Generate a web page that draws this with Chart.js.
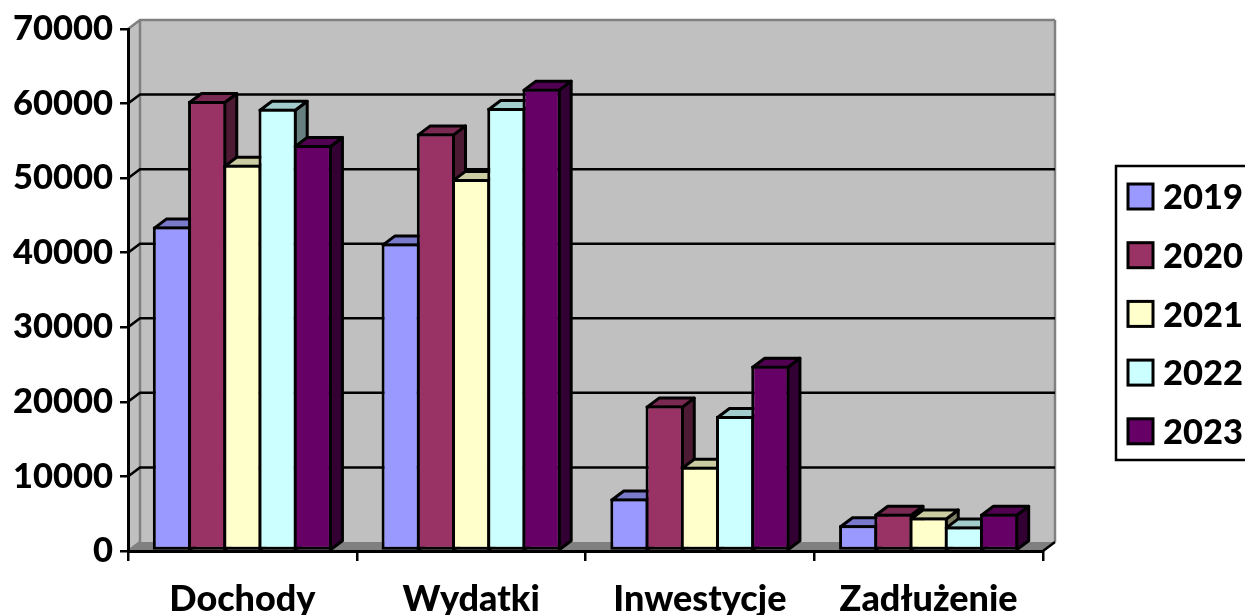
<!DOCTYPE html>
<html>
<head>
<meta charset="utf-8">
<style>html,body{margin:0;padding:0;background:#fff;overflow:hidden}canvas{display:block}</style>
<script src="https://cdn.jsdelivr.net/npm/chart.js@4/dist/chart.umd.min.js"></script>
</head>
<body>
<canvas id="c" width="1245" height="615"></canvas>
<script>
const categories = ['Dochody', 'Wydatki', 'Inwestycje', 'Zadłużenie'];
const years = ['2019', '2020', '2021', '2022', '2023'];
const values2019 = [43500, 41250, 7050, 3450];
const values2020 = [60350, 56000, 19500, 5000];
const values2021 = [51800, 49900, 11300, 4500];
const values2022 = [59300, 59400, 18100, 3300];
const values2023 = [54450, 62000, 24850, 5000];
const colors = [[153,153,255],[153,51,102],[255,255,204],[204,255,255],[102,0,102]];
const allValues = [values2019, values2020, values2021, values2022, values2023];

const NUM_SIZE = 34.5, CAT_SIZE = 36, WEIGHT = '900';
const DX = 12, DY = 9;
const rgb = (c, f) => `rgb(${c.map(v => Math.round(v * f)).join(',')})`;

const scene = {
  id: 'scene',
  beforeDraw(chart) {
    const { ctx, chartArea: a, scales: { y } } = chart;
    const top = y.getPixelForValue(70000), bot = y.getPixelForValue(0);
    ctx.save();
    ctx.lineJoin = 'miter';
    ctx.fillStyle = '#C0C0C0';
    ctx.fillRect(a.left + DX, top - DY, a.right - a.left, bot - top);
    ctx.beginPath();
    ctx.moveTo(a.left, top); ctx.lineTo(a.left + DX, top - DY);
    ctx.lineTo(a.left + DX, bot - DY); ctx.lineTo(a.left, bot); ctx.closePath();
    ctx.fill();
    ctx.fillStyle = '#808080';
    ctx.beginPath();
    ctx.moveTo(a.left, bot); ctx.lineTo(a.left + DX, bot - DY);
    ctx.lineTo(a.right + DX, bot - DY); ctx.lineTo(a.right, bot); ctx.closePath();
    ctx.fill();
    ctx.strokeStyle = '#808080';
    ctx.lineWidth = 2.5;
    ctx.beginPath();
    ctx.moveTo(a.left, top); ctx.lineTo(a.left + DX, top - DY); ctx.lineTo(a.right + DX, top - DY);
    ctx.moveTo(a.left + DX, top - DY); ctx.lineTo(a.left + DX, bot - DY);
    ctx.moveTo(a.right + DX, top - DY); ctx.lineTo(a.right + DX, bot - DY);
    ctx.moveTo(a.left, bot); ctx.lineTo(a.left + DX, bot - DY);
    ctx.stroke();
    ctx.strokeStyle = '#000';
    ctx.lineWidth = 2.5;
    y.ticks.forEach(t => {
      if (t.value === 0 || t.value === 70000) return;
      const p = y.getPixelForValue(t.value);
      ctx.beginPath();
      ctx.moveTo(a.left, p); ctx.lineTo(a.left + DX, p - DY); ctx.lineTo(a.right + DX, p - DY);
      ctx.stroke();
    });
    ctx.beginPath();
    ctx.moveTo(a.right, bot); ctx.lineTo(a.right + DX, bot - DY);
    ctx.stroke();
    ctx.restore();
  },
  beforeDatasetsDraw(chart) {
    const ctx = chart.ctx;
    const metas = years.map((_, i) => chart.getDatasetMeta(i));
    categories.forEach((_, j) => {
      metas.forEach((meta, i) => {
        const el = meta.data[j];
        const l = el.x - el.width / 2 + 1.5, r = el.x + el.width / 2 - 1.5, t = el.y + 1.5, b = el.base;
        ctx.save();
        ctx.strokeStyle = '#000';
        ctx.lineWidth = 3;
        ctx.lineJoin = 'round';
        ctx.fillStyle = rgb(colors[i], 0.5);
        ctx.beginPath();
        ctx.moveTo(r, t); ctx.lineTo(r + DX, t - DY); ctx.lineTo(r + DX, b - DY); ctx.lineTo(r, b); ctx.closePath();
        ctx.fill(); ctx.stroke();
        ctx.fillStyle = rgb(colors[i], 0.8);
        ctx.beginPath();
        ctx.moveTo(l, t); ctx.lineTo(l + DX, t - DY); ctx.lineTo(r + DX, t - DY); ctx.lineTo(r, t); ctx.closePath();
        ctx.fill(); ctx.stroke();
        ctx.restore();
        el.draw(ctx);
      });
    });
  },
  beforeDatasetDraw() { return false; },
  afterDraw(chart) {
    const ctx = chart.ctx;
    ctx.save();
    ctx.fillStyle = '#fff';
    ctx.strokeStyle = '#000';
    ctx.lineWidth = 2.5;
    ctx.fillRect(1116, 166, 140, 294);
    ctx.strokeRect(1116, 166, 140, 294);
    ctx.font = `${WEIGHT} ${NUM_SIZE}px Lato`;
    ctx.textBaseline = 'middle';
    ctx.lineWidth = 3;
    years.forEach((yr, i) => {
      const y0 = 184 + i * 58.7;
      ctx.fillStyle = rgb(colors[i], 1);
      ctx.fillRect(1128, y0, 25, 25);
      ctx.strokeRect(1128, y0, 25, 25);
      ctx.fillStyle = '#000';
      ctx.fillText(yr, 1163, y0 + 14);
    });
    ctx.restore();
  }
};

new Chart(document.getElementById('c'), {
  type: 'bar',
  data: {
    labels: categories,
    datasets: years.map((yr, i) => ({
      label: yr,
      data: allValues[i],
      backgroundColor: rgb(colors[i], 1),
      borderColor: '#000',
      borderWidth: 3,
      borderSkipped: false,
      categoryPercentage: 0.77,
      barPercentage: 1.085
    }))
  },
  options: {
    responsive: false,
    animation: false,
    layout: { padding: { left: 0, right: 202, top: 29, bottom: 0 } },
    plugins: { legend: { display: false }, tooltip: { enabled: false } },
    scales: {
      x: {
        afterFit(s) { s.height = 64; },
        grid: { drawOnChartArea: false, color: '#000', lineWidth: 2.5, tickLength: 10 },
        border: { color: '#000', width: 3 },
        ticks: { color: '#000', font: { family: 'Lato', weight: WEIGHT, size: CAT_SIZE }, padding: 17, maxRotation: 0, autoSkip: false }
      },
      y: {
        min: 0, max: 70000,
        afterFit(s) { s.width = 128; },
        grid: { drawOnChartArea: false, color: '#000', lineWidth: 2.5, tickLength: 8 },
        border: { color: '#000', width: 3 },
        ticks: { stepSize: 10000, color: '#000', font: { family: 'Lato', weight: WEIGHT, size: NUM_SIZE }, padding: 7, callback: v => String(v) }
      }
    }
  },
  plugins: [scene]
});
</script>
</body>
</html>
